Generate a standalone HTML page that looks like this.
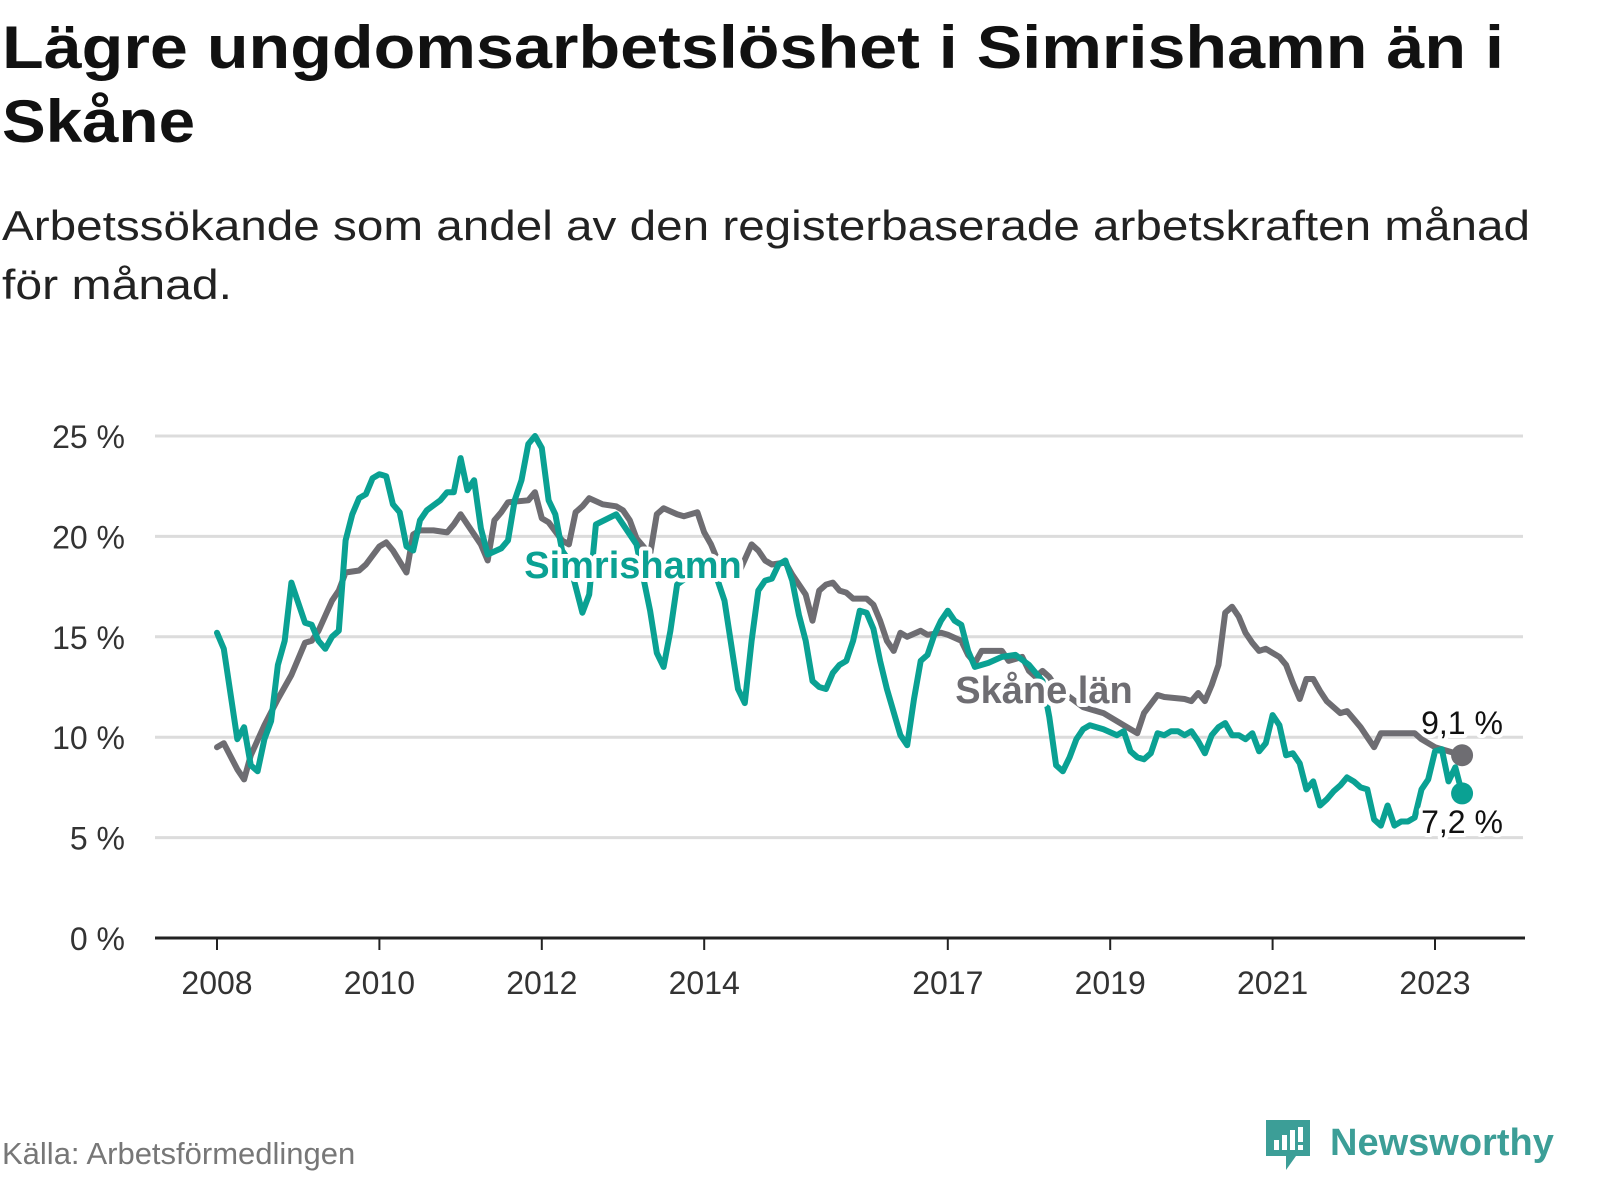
<!DOCTYPE html>
<html><head><meta charset="utf-8"><style>
html,body{margin:0;padding:0;background:#fff;}
svg{display:block;font-family:"Liberation Sans",sans-serif;}
</style></head><body>
<svg id="chart" width="1600" height="1200" viewBox="0 0 1600 1200" xmlns="http://www.w3.org/2000/svg">
<text x="2" y="68" font-size="60" font-weight="bold" fill="#111" textLength="1502" lengthAdjust="spacingAndGlyphs">Lägre ungdomsarbetslöshet i Simrishamn än i</text>
<text x="2" y="142" font-size="60" font-weight="bold" fill="#111" textLength="193" lengthAdjust="spacingAndGlyphs">Skåne</text>
<text x="2" y="240" font-size="42" fill="#222" textLength="1528" lengthAdjust="spacingAndGlyphs">Arbetssökande som andel av den registerbaserade arbetskraften månad</text>
<text x="2" y="299" font-size="42" fill="#222" textLength="230" lengthAdjust="spacingAndGlyphs">för månad.</text>
<g id="grid"></g><g id="axes"></g><g id="series"></g><g id="labels"></g>
<text x="2" y="1164" font-size="31" fill="#777">Källa: Arbetsförmedlingen</text>
<g>
<path d="M1266 1120 h44 v36 h-14 l-10 14 v-14 h-20 z" fill="#3c9e97"/>
<rect x="1274" y="1140" width="5" height="10" fill="#fff"/><rect x="1282" y="1135" width="5" height="15" fill="#fff"/><rect x="1290" y="1130" width="5" height="20" fill="#fff"/><rect x="1298" y="1127" width="5" height="15" fill="#fff"/><rect x="1298" y="1145" width="5" height="5" fill="#fff"/>
<text x="1330" y="1155" font-size="38" font-weight="bold" fill="#3c9e97">Newsworthy</text>
</g>
</svg>
<script>
const yTicks=[0,5,10,15,20,25];
const yTickLabels=["0 %","5 %","10 %","15 %","20 %","25 %"];
const xTicks=[2008,2010,2012,2014,2017,2019,2021,2023];
const simMonths=[0,1,3,4,5,6,7,8,9,10,11,12,13,14,15,16,17,18,19,20,21,22,23,24,25,26,27,28,29,30,31,33,34,35,36,37,38,39,40,42,43,44,45,46,47,48,49,50,51,52,54,55,56,59,62,64,65,66,67,68,70,71,73,75,77,78,79,80,81,82,83,84,85,86,87,88,89,90,91,92,93,94,95,96,97,98,99,101,102,103,104,105,106,107,108,109,110,111,112,114,116,118,120,122,123,124,125,126,127,128,129,131,133,134,135,136,137,138,139,140,141,142,143,144,145,146,147,148,149,150,151,152,153,154,155,156,157,158,159,160,161,162,163,164,165,166,167,168,169,170,171,172,173,174,175,176,177,178,179,180,181,182,183,184];
const simValues=[15.2,14.4,9.9,10.5,8.6,8.3,9.9,10.8,13.6,14.8,17.7,16.7,15.7,15.6,14.8,14.4,15.0,15.3,19.8,21.1,21.9,22.1,22.9,23.1,23.0,21.6,21.2,19.5,19.3,20.8,21.3,21.8,22.2,22.2,23.9,22.3,22.8,20.4,19.1,19.4,19.8,21.8,22.8,24.6,25.0,24.4,21.8,21.1,19.3,18.8,16.2,17.1,20.6,21.1,19.6,16.3,14.2,13.5,15.3,17.6,18.1,18.6,18.8,16.8,12.4,11.7,14.8,17.3,17.8,17.9,18.6,18.8,17.8,16.1,14.8,12.8,12.5,12.4,13.2,13.6,13.8,14.8,16.3,16.2,15.4,13.8,12.4,10.1,9.6,11.9,13.8,14.1,15.1,15.8,16.3,15.8,15.6,14.3,13.5,13.7,14.0,14.1,13.6,12.8,11.0,8.6,8.3,9.0,9.9,10.4,10.6,10.4,10.1,10.3,9.3,9.0,8.9,9.2,10.2,10.1,10.3,10.3,10.1,10.3,9.8,9.2,10.1,10.5,10.7,10.1,10.1,9.9,10.2,9.3,9.7,11.1,10.6,9.1,9.2,8.7,7.4,7.8,6.6,6.9,7.3,7.6,8.0,7.8,7.5,7.4,5.9,5.6,6.6,5.6,5.8,5.8,6.0,7.4,7.9,9.3,9.4,7.8,8.5,7.2];
const skaMonths=[0,1,3,4,5,7,9,11,12,13,14,15,17,18,19,21,22,24,25,26,28,29,30,32,34,35,36,37,39,40,41,42,43,46,47,48,49,51,52,53,54,55,57,59,60,61,62,64,65,66,68,69,71,72,73,74,76,77,79,80,81,82,84,85,87,88,89,90,91,92,93,94,96,97,98,99,100,101,102,104,105,107,108,110,111,112,113,116,117,119,120,121,122,123,124,128,131,134,136,137,139,140,143,144,145,146,147,148,149,150,151,152,153,154,155,156,157,158,159,160,161,162,163,164,165,166,167,168,169,170,171,172,177,178,180,182,184];
const skaValues=[9.5,9.7,8.4,7.9,9.1,10.6,11.9,13.1,13.9,14.7,14.8,15.3,16.8,17.3,18.2,18.3,18.6,19.5,19.7,19.3,18.2,20.1,20.3,20.3,20.2,20.6,21.1,20.6,19.6,18.8,20.8,21.2,21.7,21.8,22.2,20.9,20.7,19.8,19.6,21.2,21.5,21.9,21.6,21.5,21.3,20.8,19.9,19.1,21.1,21.4,21.1,21.0,21.2,20.2,19.6,18.8,18.4,18.1,19.6,19.3,18.8,18.6,18.7,18.1,17.1,15.8,17.3,17.6,17.7,17.3,17.2,16.9,16.9,16.6,15.8,14.8,14.3,15.2,15.0,15.3,15.1,15.2,15.1,14.8,14.1,13.7,14.3,14.3,13.8,14.0,13.3,13.0,13.3,13.0,12.5,11.5,11.2,10.6,10.2,11.2,12.1,12.0,11.9,11.8,12.2,11.8,12.6,13.6,16.2,16.5,16.0,15.2,14.7,14.3,14.4,14.2,14.0,13.6,12.7,11.9,12.9,12.9,12.3,11.8,11.5,11.2,11.3,10.9,10.5,10.0,9.5,10.2,10.2,9.9,9.5,9.3,9.1];

const NS="http://www.w3.org/2000/svg";
const X0=217, PXYEAR=81.2, Y0=938, PXPCT=20.08;
function xYear(y){return X0+(y-2008)*PXYEAR;}
function xMonth(m){return X0+m*PXYEAR/12;}
function yVal(v){return Y0-v*PXPCT;}
function mk(tag,attrs,parent){const e=document.createElementNS(NS,tag);for(const k in attrs)e.setAttribute(k,attrs[k]);parent.appendChild(e);return e;}

const grid=document.getElementById('grid');
yTicks.forEach((t,i)=>{
  if(t>0){const l=mk('line',{x1:155,x2:1523,y1:yVal(t),y2:yVal(t),stroke:'#dcdcdc','stroke-width':3},grid);
  
  }
  const tx=mk('text',{x:125,y:yVal(t)+12,'text-anchor':'end','font-size':32,fill:'#333'},grid);
  tx.textContent=yTickLabels[i];
  
  
});
const axes=document.getElementById('axes');
const ax=mk('line',{x1:155,x2:1525,y1:Y0,y2:Y0,stroke:'#222','stroke-width':3},axes);


xTicks.forEach(t=>{
  const tk=mk('line',{x1:xYear(t),x2:xYear(t),y1:Y0,y2:Y0+12,stroke:'#222','stroke-width':2},axes);
  
  
  const tl=mk('text',{x:xYear(t),y:994,'text-anchor':'middle','font-size':32,fill:'#333'},axes);
  tl.textContent=t;
  
  
});
const ser=document.getElementById('series');
function line(ms,vs,col,name){
  const d=ms.map((m,i)=>(i?'L':'M')+xMonth(m).toFixed(1)+' '+yVal(vs[i]).toFixed(1)).join(' ');
  const p=mk('path',{d:d,fill:'none',stroke:col,'stroke-width':6,'stroke-linejoin':'round','stroke-linecap':'round'},ser);
  
  
  const n=ms.length-1;
  const c=mk('circle',{cx:xMonth(ms[n]),cy:yVal(vs[n]),r:11,fill:col},ser);
  
  
}
line(skaMonths,skaValues,'#6e6d72','skane');
line(simMonths,simValues,'#0aa193','simrishamn');
const lab=document.getElementById('labels');
function label(txt,x,y,size,weight,col,anchor,name){
  const t=mk('text',{x:x,y:y,'font-size':size,'font-weight':weight,fill:col,'text-anchor':anchor,stroke:'#fff','stroke-width':8,'paint-order':'stroke','stroke-linejoin':'round'},lab);
  t.textContent=txt;
  
  
}
label('Simrishamn',633,578,38,'bold','#0aa193','middle','simrishamn-series-label');
label('Skåne län',1044,703,38,'bold','#6e6d72','middle','skane-series-label');
label('9,1 %',1462,734,32,'normal','#111','middle','skane-end-value');
label('7,2 %',1462,833,32,'normal','#111','middle','simrishamn-end-value');
</script>
</body></html>
